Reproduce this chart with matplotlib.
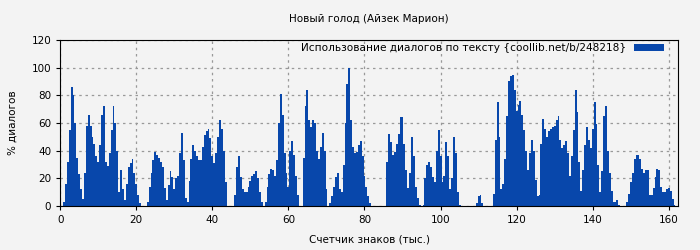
import numpy as np
import matplotlib
matplotlib.use("Agg")
import matplotlib.pyplot as plt

# share of dialogue (%) per 0.5k characters, starting at 1.0k
start = 1.0
step = 0.5
values = [
    3, 16, 32, 55, 86, 80, 60, 35, 23, 12,          # 1.0 - 5.5
    5, 24, 58, 66, 58, 50, 45, 36, 32, 44,          # 6.0 - 10.5
    66, 72, 32, 29, 38, 55, 72, 60, 40, 10,         # 11.0 - 15.5
    26, 12, 4, 16, 28, 31, 34, 24, 16, 8,           # 16.0 - 20.5
    2, 0, 0, 0, 3, 14, 24, 33, 39, 37,              # 21.0 - 25.5
    35, 32, 28, 13, 4, 15, 25, 21, 12, 20,          # 26.0 - 30.5
    22, 38, 53, 33, 6, 3, 18, 34, 44, 40,           # 31.0 - 35.5
    36, 33, 33, 43, 51, 54, 56, 49, 36, 31,         # 36.0 - 40.5
    38, 50, 62, 56, 40, 17, 0, 0, 0, 0,             # 41.0 - 45.5
    8, 28, 36, 21, 12, 10, 10, 14, 18, 22,          # 46.0 - 50.5
    23, 25, 20, 10, 3, 0, 3, 14, 23, 27,            # 51.0 - 55.5
    26, 22, 33, 60, 81, 66, 38, 24, 14, 40,         # 56.0 - 60.5
    47, 37, 22, 8, 0, 0, 35, 72, 84, 62,            # 61.0 - 65.5
    57, 62, 60, 40, 34, 43, 53, 40, 12, 0,          # 66.0 - 70.5
    2, 7, 14, 21, 24, 12, 10, 30, 60, 88,           # 71.0 - 75.5
    100, 62, 43, 38, 39, 44, 47, 36, 22, 14,        # 76.0 - 80.5
    7, 2, 0, 0, 0, 0, 0, 0, 0, 0,                   # 81.0 - 85.5
    32, 52, 46, 37, 39, 45, 52, 64, 64, 45,         # 86.0 - 90.5
    26, 13, 24, 50, 36, 14, 6, 1, 0, 1,             # 91.0 - 95.5
    20, 30, 32, 28, 21, 17, 40, 55, 36, 17,         # 96.0 - 100.5
    22, 46, 36, 12, 20, 50, 38, 10, 1, 0,           # 101.0 - 105.5
    0, 0, 0, 0, 0, 0, 0, 2, 7, 8,                   # 106.0 - 110.5
    2, 0, 0, 0, 0, 0, 9, 48, 75, 50,                # 111.0 - 115.5
    12, 16, 34, 65, 90, 94, 95, 84, 69, 73,         # 116.0 - 120.5
    76, 66, 55, 40, 26, 38, 48, 40, 19, 7,          # 121.0 - 125.5
    8, 45, 63, 56, 50, 54, 56, 57, 58, 62,          # 126.0 - 130.5
    65, 48, 42, 44, 47, 38, 22, 36, 55, 84,         # 131.0 - 135.5
    68, 32, 11, 26, 44, 57, 48, 42, 56, 75,         # 136.0 - 140.5
    59, 30, 10, 25, 65, 72, 40, 24, 11, 3,          # 141.0 - 145.5
    3, 4, 1, 0, 0, 0, 3, 9, 17, 24,                 # 146.0 - 150.5
    34, 37, 37, 34, 27, 24, 26, 26, 8, 8,           # 151.0 - 155.5
    13, 21, 27, 26, 14, 10, 10, 12, 13, 11,         # 156.0 - 160.5
    5, 1,                                           # 161.0 - 161.5
]
x = start + step * np.arange(len(values))

title = "Новый голод (Айзек Марион)"
legend_label = "Использование диалогов по тексту {coollib.net/b/248218}"
bar_color = "#0847ab"
bg = "#f3f3f3"

fig = plt.figure(figsize=(7, 2.5), dpi=100, facecolor=bg)
ax = fig.add_axes([0.086, 0.176, 0.883, 0.664], facecolor=bg)

ax.bar(x, values, width=step, color=bar_color, linewidth=0, label=legend_label)

ax.set_xlim(0, 162.5)
ax.set_ylim(0, 120)
ax.set_xticks(np.arange(0, 161, 20))
ax.set_yticks(np.arange(0, 121, 20))
ax.tick_params(labelsize=7.5, length=3)
ax.grid(True, color="#999999", linestyle=(0, (2, 3)), linewidth=0.9)
ax.set_axisbelow(True)

ax.set_title(title, fontsize=7.5, pad=13)
ax.set_xlabel("Счетчик знаков (тыс.)", fontsize=7.5, labelpad=7)
ax.set_ylabel("% диалогов", fontsize=7.5, labelpad=10)

ax.legend(loc="upper right", bbox_to_anchor=(0.9815, 1.0), frameon=False,
          fontsize=7.6, markerfirst=False, handlelength=2.8, handleheight=0.7,
          handletextpad=0.8, borderaxespad=0.3, borderpad=0.0)

fig.savefig("out.png", dpi=100, facecolor=bg)
